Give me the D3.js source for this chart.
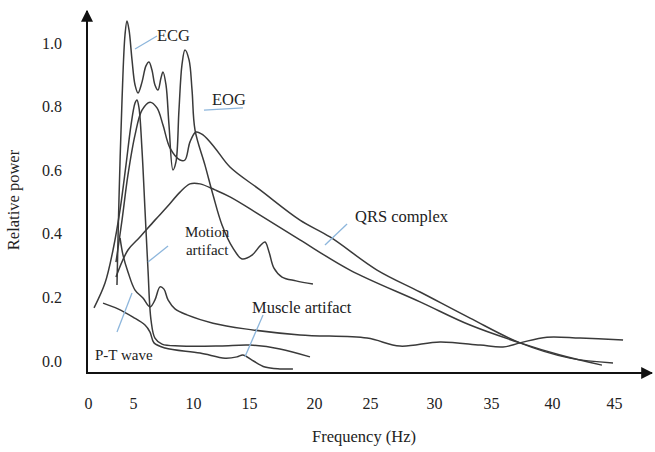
<!DOCTYPE html>
<html>
<head>
<meta charset="utf-8">
<script src="https://cdn.jsdelivr.net/npm/d3@7"></script>
<style>
	html, body { margin: 0; padding: 0; background: #fff; }
	svg { display: block; }
	text { font-family: "Liberation Serif", "Times New Roman", serif; fill: #222; }
</style>
</head>
<body>
<div id="chart"></div>
<script>
(function () {

	'use strict';

	// ---- data (frequency in Hz, relative power) ----
	let freqTicks = [0, 5, 10, 15, 20, 25, 30, 35, 40, 45];
	let powerTicks = [0, 0.2, 0.4, 0.6, 0.8, 1.0];

	let ecg = [[3.22,0.239],[3.44,0.506],[3.78,0.821],[4.11,1.025],[4.33,1.069],[4.56,1.041],[4.89,0.947],
		[5.17,0.868],[5.42,0.843],[5.75,0.877],[6.08,0.928],[6.33,0.940],[6.58,0.915],[6.83,0.868],[7.08,0.852],
		[7.33,0.890],[7.50,0.909],[7.75,0.868],[8.00,0.742],[8.33,0.601],[8.58,0.626],[8.83,0.789],[9.08,0.931],
		[9.33,0.978],[9.67,0.947],[9.92,0.852],[10.18,0.726],[11.07,0.616],[11.79,0.522],[12.59,0.428],
		[13.57,0.355],[14.38,0.321],[15.23,0.333],[15.85,0.362],[16.23,0.374],[16.54,0.343],[16.92,0.292],
		[17.54,0.264],[18.62,0.252],[19.92,0.242]];

	let spike = [[0.67,0.167],[1.89,0.245],[2.78,0.349],[3.56,0.475],[4.22,0.616],[4.78,0.742],[5.17,0.811],
		[5.33,0.821],[5.50,0.796],[5.75,0.664],[6.00,0.475],[6.25,0.286],[6.50,0.129],[6.83,0.072],[7.42,0.053],
		[8.92,0.047],[12.41,0.047],[15.08,0.050],[17.38,0.038],[19.69,0.013]];

	let eog = [[3.11,0.311],[3.78,0.443],[4.44,0.585],[5.17,0.711],[5.75,0.789],[6.42,0.814],[7.00,0.796],
		[7.50,0.742],[8.08,0.670],[8.92,0.632],[9.33,0.632],[9.75,0.689],[10.27,0.720],[10.89,0.711],
		[11.96,0.670],[13.30,0.610],[15.85,0.538],[18.92,0.443],[21.43,0.390],[25.55,0.286],[28.91,0.217],
		[33.16,0.135],[37.38,0.057],[41.45,0.009],[44.92,-0.006]];

	let qrs = [[3.11,0.264],[4.44,0.349],[5.58,0.390],[6.83,0.443],[7.83,0.484],[8.92,0.531],[9.75,0.557],
		[10.63,0.557],[11.96,0.538],[13.30,0.516],[15.85,0.459],[18.92,0.381],[23.21,0.286],[28.91,0.186],
		[33.16,0.113],[37.38,0.057],[40.65,0.019],[44.03,-0.013]];

	let ptWave = [[1.67,0.182],[3.33,0.164],[5.00,0.138],[6.00,0.113],[6.42,0.091],[6.75,0.057],[7.67,0.041],
		[10.63,0.025],[12.86,0.009],[13.93,0.013],[14.46,0.019],[15.23,0.003],[16.23,-0.019],[17.38,-0.025],
		[18.38,-0.025]];

	let muscle = [[3.56,0.387],[3.89,0.333],[4.44,0.280],[5.17,0.223],[5.83,0.198],[6.42,0.170],[6.83,0.192],
		[7.25,0.233],[7.58,0.226],[7.92,0.192],[8.50,0.164],[9.50,0.145],[11.79,0.119],[14.64,0.101],
		[18.92,0.082],[24.73,0.072],[27.34,0.047],[30.53,0.060],[34.04,0.050],[35.98,0.044],[37.38,0.057],
		[39.59,0.075],[42.26,0.072],[45.73,0.066]];

	let curves = [ecg, spike, eog, qrs, ptWave, muscle];

	// annotations: text lines at [freq, power], leader from -> to
	let labels = [
		{ lines: ['ECG'], at: [7.0, 1.006], size: 16.5, from: [5.17, 0.981], to: [7.0, 1.022] },
		{ lines: ['EOG'], at: [11.7, 0.805], size: 16.5, from: [10.98, 0.789], to: [14.46, 0.796] },
		{ lines: ['QRS complex'], at: [23.66, 0.437], size: 16.5, from: [20.98, 0.365], to: [22.95, 0.431] },
		{ lines: ['Motion', 'artifact'], at: [9.33, 0.390], size: 15, from: [6.25, 0.311], to: [7.92, 0.362] },
		{ lines: ['Muscle artifact'], at: [15.23, 0.151], size: 16.5, from: [14.64, 0.013], to: [16.08, 0.145] },
		{ lines: ['P-T wave'], at: [0.78, 0.003], size: 15, from: [3.22, 0.091], to: [4.89, 0.214] }
	];

	// ---- layout ----
	let W = 655, H = 452;
	let tickPx = [88, 133, 193, 249, 314, 370, 434, 491, 552, 614]; // the drawn tick spacing is uneven
	let axisX = 87, axisY = 373;

	let svg = d3.select('#chart').append('svg')
		.attr('width', W)
		.attr('height', H);

	let x = d3.scaleLinear().domain(freqTicks).range(tickPx);
	let y = d3.scaleLinear().domain([0, 1]).range([361, 43]);

	// arrows
	svg.append('defs').append('marker')
		.attr('id', 'arrow')
		.attr('viewBox', '0 0 10 10')
		.attr('refX', 9).attr('refY', 5)
		.attr('markerWidth', 6).attr('markerHeight', 6)
		.attr('markerUnits', 'strokeWidth')
		.attr('orient', 'auto')
		.append('path')
		.attr('d', 'M0,0 L10,5 L0,10 z')
		.attr('fill', '#111');

	svg.append('line')
		.attr('x1', axisX).attr('y1', axisY)
		.attr('x2', 652).attr('y2', axisY)
		.attr('stroke', '#111').attr('stroke-width', 2)
		.attr('marker-end', 'url(#arrow)');

	svg.append('line')
		.attr('x1', axisX).attr('y1', axisY + 1)
		.attr('x2', axisX).attr('y2', 11)
		.attr('stroke', '#111').attr('stroke-width', 2)
		.attr('marker-end', 'url(#arrow)');

	// tick labels
	let gx = svg.append('g')
		.attr('transform', 'translate(0,' + axisY + ')')
		.call(d3.axisBottom(x).tickValues(freqTicks).tickSize(0).tickPadding(25));
	gx.select('.domain').remove();
	gx.selectAll('text').style('font-size', '16px').style('font-family', '"Liberation Serif", serif').attr('fill', '#222');

	let gy = svg.append('g')
		.attr('transform', 'translate(' + axisX + ',0)')
		.call(d3.axisLeft(y).tickValues(powerTicks).tickFormat(d3.format('.1f')).tickSize(0).tickPadding(25));
	gy.select('.domain').remove();
	gy.selectAll('text').style('font-size', '16px').style('font-family', '"Liberation Serif", serif').attr('fill', '#222');

	// axis titles
	svg.append('text')
		.attr('x', 364).attr('y', 442)
		.attr('text-anchor', 'middle')
		.style('font-size', '16.5px')
		.text('Frequency (Hz)');

	svg.append('text')
		.attr('transform', 'translate(19,200) rotate(-90)')
		.attr('text-anchor', 'middle')
		.style('font-size', '16.5px')
		.text('Relative power');

	// curves
	let line = d3.line()
		.x(function (d) { return x(d[0]); })
		.y(function (d) { return y(d[1]); })
		.curve(d3.curveCatmullRom.alpha(0.5));

	svg.append('g').selectAll('path.curve')
		.data(curves)
		.enter().append('path')
		.attr('class', 'curve')
		.attr('d', line)
		.attr('fill', 'none')
		.attr('stroke', '#3a3a3a')
		.attr('stroke-width', 1.5)
		.attr('stroke-linejoin', 'round');

	// annotations
	let ann = svg.append('g').selectAll('g.label')
		.data(labels)
		.enter().append('g')
		.attr('class', 'label');

	ann.append('line')
		.attr('x1', function (d) { return x(d.from[0]); })
		.attr('y1', function (d) { return y(d.from[1]); })
		.attr('x2', function (d) { return x(d.to[0]); })
		.attr('y2', function (d) { return y(d.to[1]); })
		.attr('stroke', '#8db6dc')
		.attr('stroke-width', 1.3);

	ann.each(function (d) {
		let t = d3.select(this).append('text')
			.attr('x', x(d.at[0]))
			.attr('y', y(d.at[1]))
			.style('font-size', d.size + 'px');
		d.lines.forEach(function (s, i) {
			t.append('tspan')
				.attr('x', x(d.at[0]) + i)
				.attr('dy', i ? '1.2em' : 0)
				.text(s);
		});
	});

})();
</script>
</body>
</html>
